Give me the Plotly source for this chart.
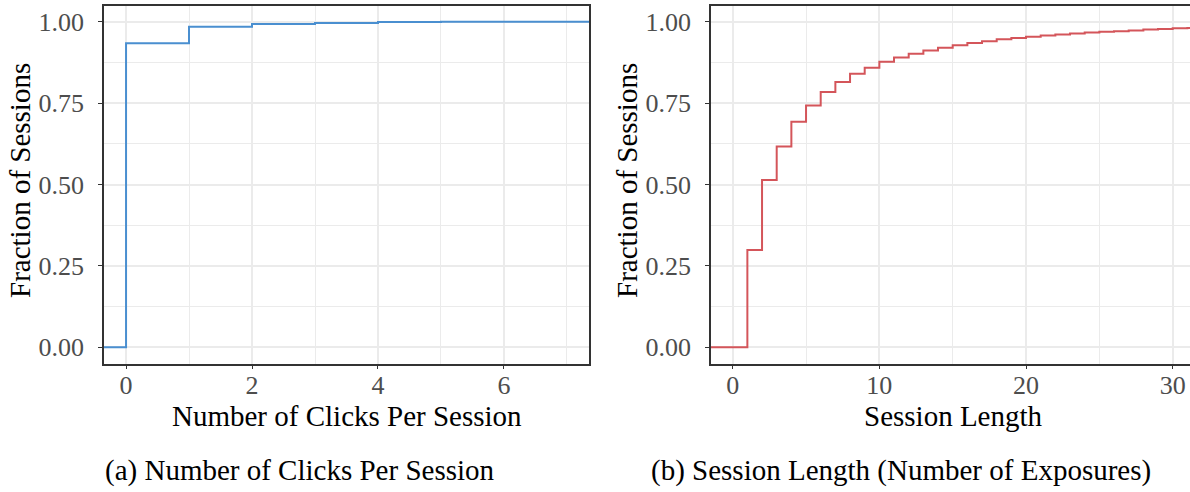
import plotly.graph_objects as go

# ---- data ----
clicks = [0, 1, 2, 3, 4, 5]
clicks_cdf = [0.934, 0.985, 0.993, 0.996, 0.999, 1.0]

session_len = list(range(1, 32))
session_cdf = [0.299, 0.514, 0.617, 0.693, 0.743, 0.784, 0.815, 0.840, 0.859, 0.877,
               0.890, 0.902, 0.912, 0.920, 0.928, 0.935, 0.940, 0.946, 0.950, 0.954,
               0.958, 0.961, 0.964, 0.967, 0.969, 0.971, 0.973, 0.976, 0.978, 0.980, 0.981]

y_ticks = [0.0, 0.25, 0.5, 0.75, 1.0]
y_tick_text = ["0.00", "0.25", "0.50", "0.75", "1.00"]

x1_range = [-0.35, 7.35]
x2_range = [-1.48, 31.18]
y_range = [-0.05, 1.05]

W, H = 1190, 492
FONT = "Liberation Serif"
BLUE = "#4A8FD0"
RED = "#D4555A"
GRID = "#EBEBEB"
BORDER = "#333333"


def px_x(p):
    return p / W


def px_y(p):
    return 1 - p / H


fig = go.Figure()

fig.add_trace(go.Scatter(
    x=[x1_range[0]] + clicks + [x1_range[1]],
    y=[0.0] + clicks_cdf + [clicks_cdf[-1]],
    mode="lines", line=dict(color=BLUE, width=2, shape="hv"),
    xaxis="x", yaxis="y", showlegend=False))

fig.add_trace(go.Scatter(
    x=[x2_range[0]] + session_len + [x2_range[1] + 1],
    y=[0.0] + session_cdf + [session_cdf[-1]],
    mode="lines", line=dict(color=RED, width=2, shape="hv"),
    xaxis="x2", yaxis="y2", showlegend=False))

ydom = [px_y(363.5), px_y(5.5)]
tickfont = dict(family=FONT, size=26, color="#4D4D4D")

common_x = dict(showgrid=True, gridcolor=GRID, gridwidth=1.6, zeroline=False,
                showline=True, linecolor=BORDER, linewidth=1.5, mirror=True,
                ticks="outside", ticklen=4, tickcolor=BORDER, tickwidth=1.3,
                tickfont=tickfont, ticklabelstandoff=-6)
common_y = dict(showgrid=True, gridcolor=GRID, gridwidth=1.6, zeroline=False,
                showline=True, linecolor=BORDER, linewidth=1.5,
                ticks="outside", ticklen=4, tickcolor=BORDER, tickwidth=1.3,
                tickfont=tickfont, range=y_range, tickvals=y_ticks,
                ticktext=y_tick_text, ticklabelstandoff=9,
                minor=dict(tickvals=[0.125, 0.375, 0.625, 0.875], showgrid=True,
                           gridcolor=GRID, gridwidth=0.8, ticks=""))

fig.update_layout(
    width=W, height=H,
    margin=dict(l=0, r=0, t=0, b=0),
    paper_bgcolor="white", plot_bgcolor="white",
    font=dict(family=FONT, color="black"),
    xaxis=dict(common_x, domain=[px_x(104), px_x(589)], range=x1_range,
               tickvals=[0, 2, 4, 6],
               minor=dict(tickvals=[1, 3, 5, 7], showgrid=True, gridcolor=GRID,
                          gridwidth=0.8, ticks=""),
               anchor="y"),
    yaxis=dict(common_y, domain=ydom, mirror=True, anchor="x"),
    xaxis2=dict(common_x, domain=[px_x(711), 1.0], range=x2_range,
                tickvals=[0, 10, 20, 30],
                minor=dict(tickvals=[5, 15, 25], showgrid=True, gridcolor=GRID,
                           gridwidth=0.8, ticks=""),
                anchor="y2"),
    yaxis2=dict(common_y, domain=ydom, mirror=False, anchor="x2"),
)

title_font = dict(family=FONT, size=29, color="black")
annotations = [
    dict(text="Fraction of Sessions", x=px_x(20), y=px_y(181), textangle=-90),
    dict(text="Fraction of Sessions", x=px_x(627), y=px_y(181), textangle=-90),
    dict(text="Number of Clicks Per Session", x=px_x(346.5), y=px_y(416)),
    dict(text="Session Length", x=px_x(953), y=px_y(416)),
    dict(text="(a) Number of Clicks Per Session", x=px_x(300), y=px_y(470)),
    dict(text="(b) Session Length (Number of Exposures)", x=px_x(901), y=px_y(470)),
]
for a in annotations:
    fig.add_annotation(xref="paper", yref="paper", showarrow=False,
                       xanchor="center", yanchor="middle", font=title_font, **a)

fig.write_html("out.html")
